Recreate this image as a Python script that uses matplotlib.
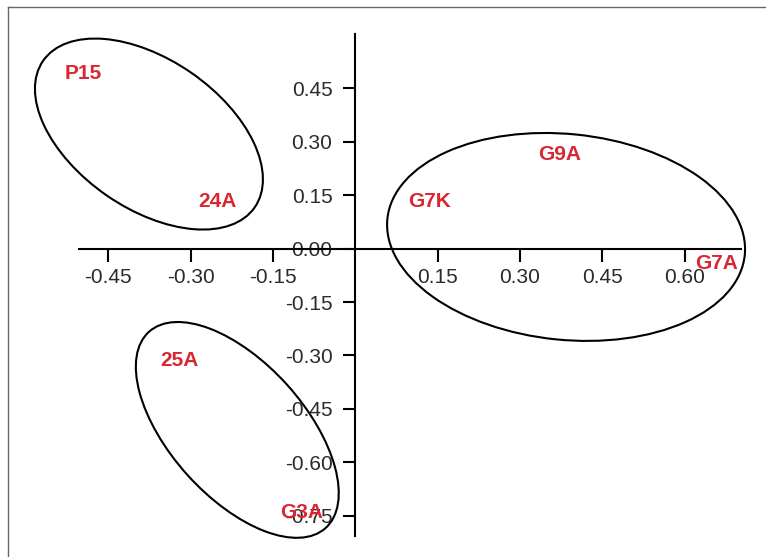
import matplotlib
matplotlib.use("Agg")
import matplotlib.pyplot as plt
from matplotlib.patches import Ellipse
from matplotlib.lines import Line2D
from matplotlib.transforms import ScaledTranslation

plt.rcParams["font.family"] = ["Liberation Sans", "DejaVu Sans"]
plt.rcParams["axes.unicode_minus"] = False

# -- Data ----------------------------------------------------------------------
labels   = ["P15", "24A", "G9A", "G7K", "G7A", "25A", "G3A"]
label_x  = [-0.495, -0.252, 0.372, 0.136, 0.658, -0.320, -0.0975]
label_y  = [0.477, 0.116, 0.249, 0.116, -0.058, -0.330, -0.756]

# group ellipses: centre (data), full width / height (inches), angle (deg)
ell_cx    = [-0.376, 0.384, -0.215]
ell_cy    = [0.322, 0.033, -0.509]
ell_w     = [2.574, 3.592, 2.640]
ell_h     = [1.490, 2.058, 1.344]
ell_angle = [-34.7, -5.8, -48.0]

xticks = [-0.45, -0.30, -0.15, 0.15, 0.30, 0.45, 0.60]
yticks = [0.45, 0.30, 0.15, 0.00, -0.15, -0.30, -0.45, -0.60, -0.75]

RED = "#d92732"

fig = plt.figure(figsize=(7.66, 5.57), dpi=100)
ax = fig.add_axes([0.10313, 0.0377, 0.86423, 0.9004])

for s in ["top", "right"]:
    ax.spines[s].set_visible(False)
for s in ["left", "bottom"]:
    ax.spines[s].set_position(("data", 0))
    ax.spines[s].set_linewidth(1.5)

ax.set_xticks(xticks)
ax.set_yticks(yticks)
ax.set_xticklabels([f"{v:.2f}" for v in xticks])
ax.set_yticklabels([f"{v:.2f}" for v in yticks])
ax.tick_params(axis="both", direction="out", length=9, width=1.5,
               labelsize=15, labelcolor="#2b2b2b")
ax.tick_params(axis="y", pad=7.5)
ax.tick_params(axis="x", pad=5)

for cx, cy, w, h, a in zip(ell_cx, ell_cy, ell_w, ell_h, ell_angle):
    trans = fig.dpi_scale_trans + ScaledTranslation(cx, cy, ax.transData)
    e = Ellipse((0, 0), w, h, angle=a, transform=trans, fill=False,
                edgecolor="black", linewidth=1.5, zorder=4, clip_on=False)
    ax.add_artist(e)

for lab, x, y in zip(labels, label_x, label_y):
    ax.text(x, y, lab, color=RED, fontsize=15, fontweight="bold",
            ha="center", va="baseline", zorder=5, clip_on=False)

ax.set_xlim(-0.5034, 0.7027)
ax.set_ylim(-0.807, 0.6017)

# frame line (top and left edge)
fig.add_artist(Line2D([0.0104, 1.0], [0.9869, 0.9869], transform=fig.transFigure,
                      color="#666666", linewidth=1.0))
fig.add_artist(Line2D([0.0104, 0.0104], [0.0, 0.9869], transform=fig.transFigure,
                      color="#666666", linewidth=1.0))

fig.savefig("out.png", dpi=100)
